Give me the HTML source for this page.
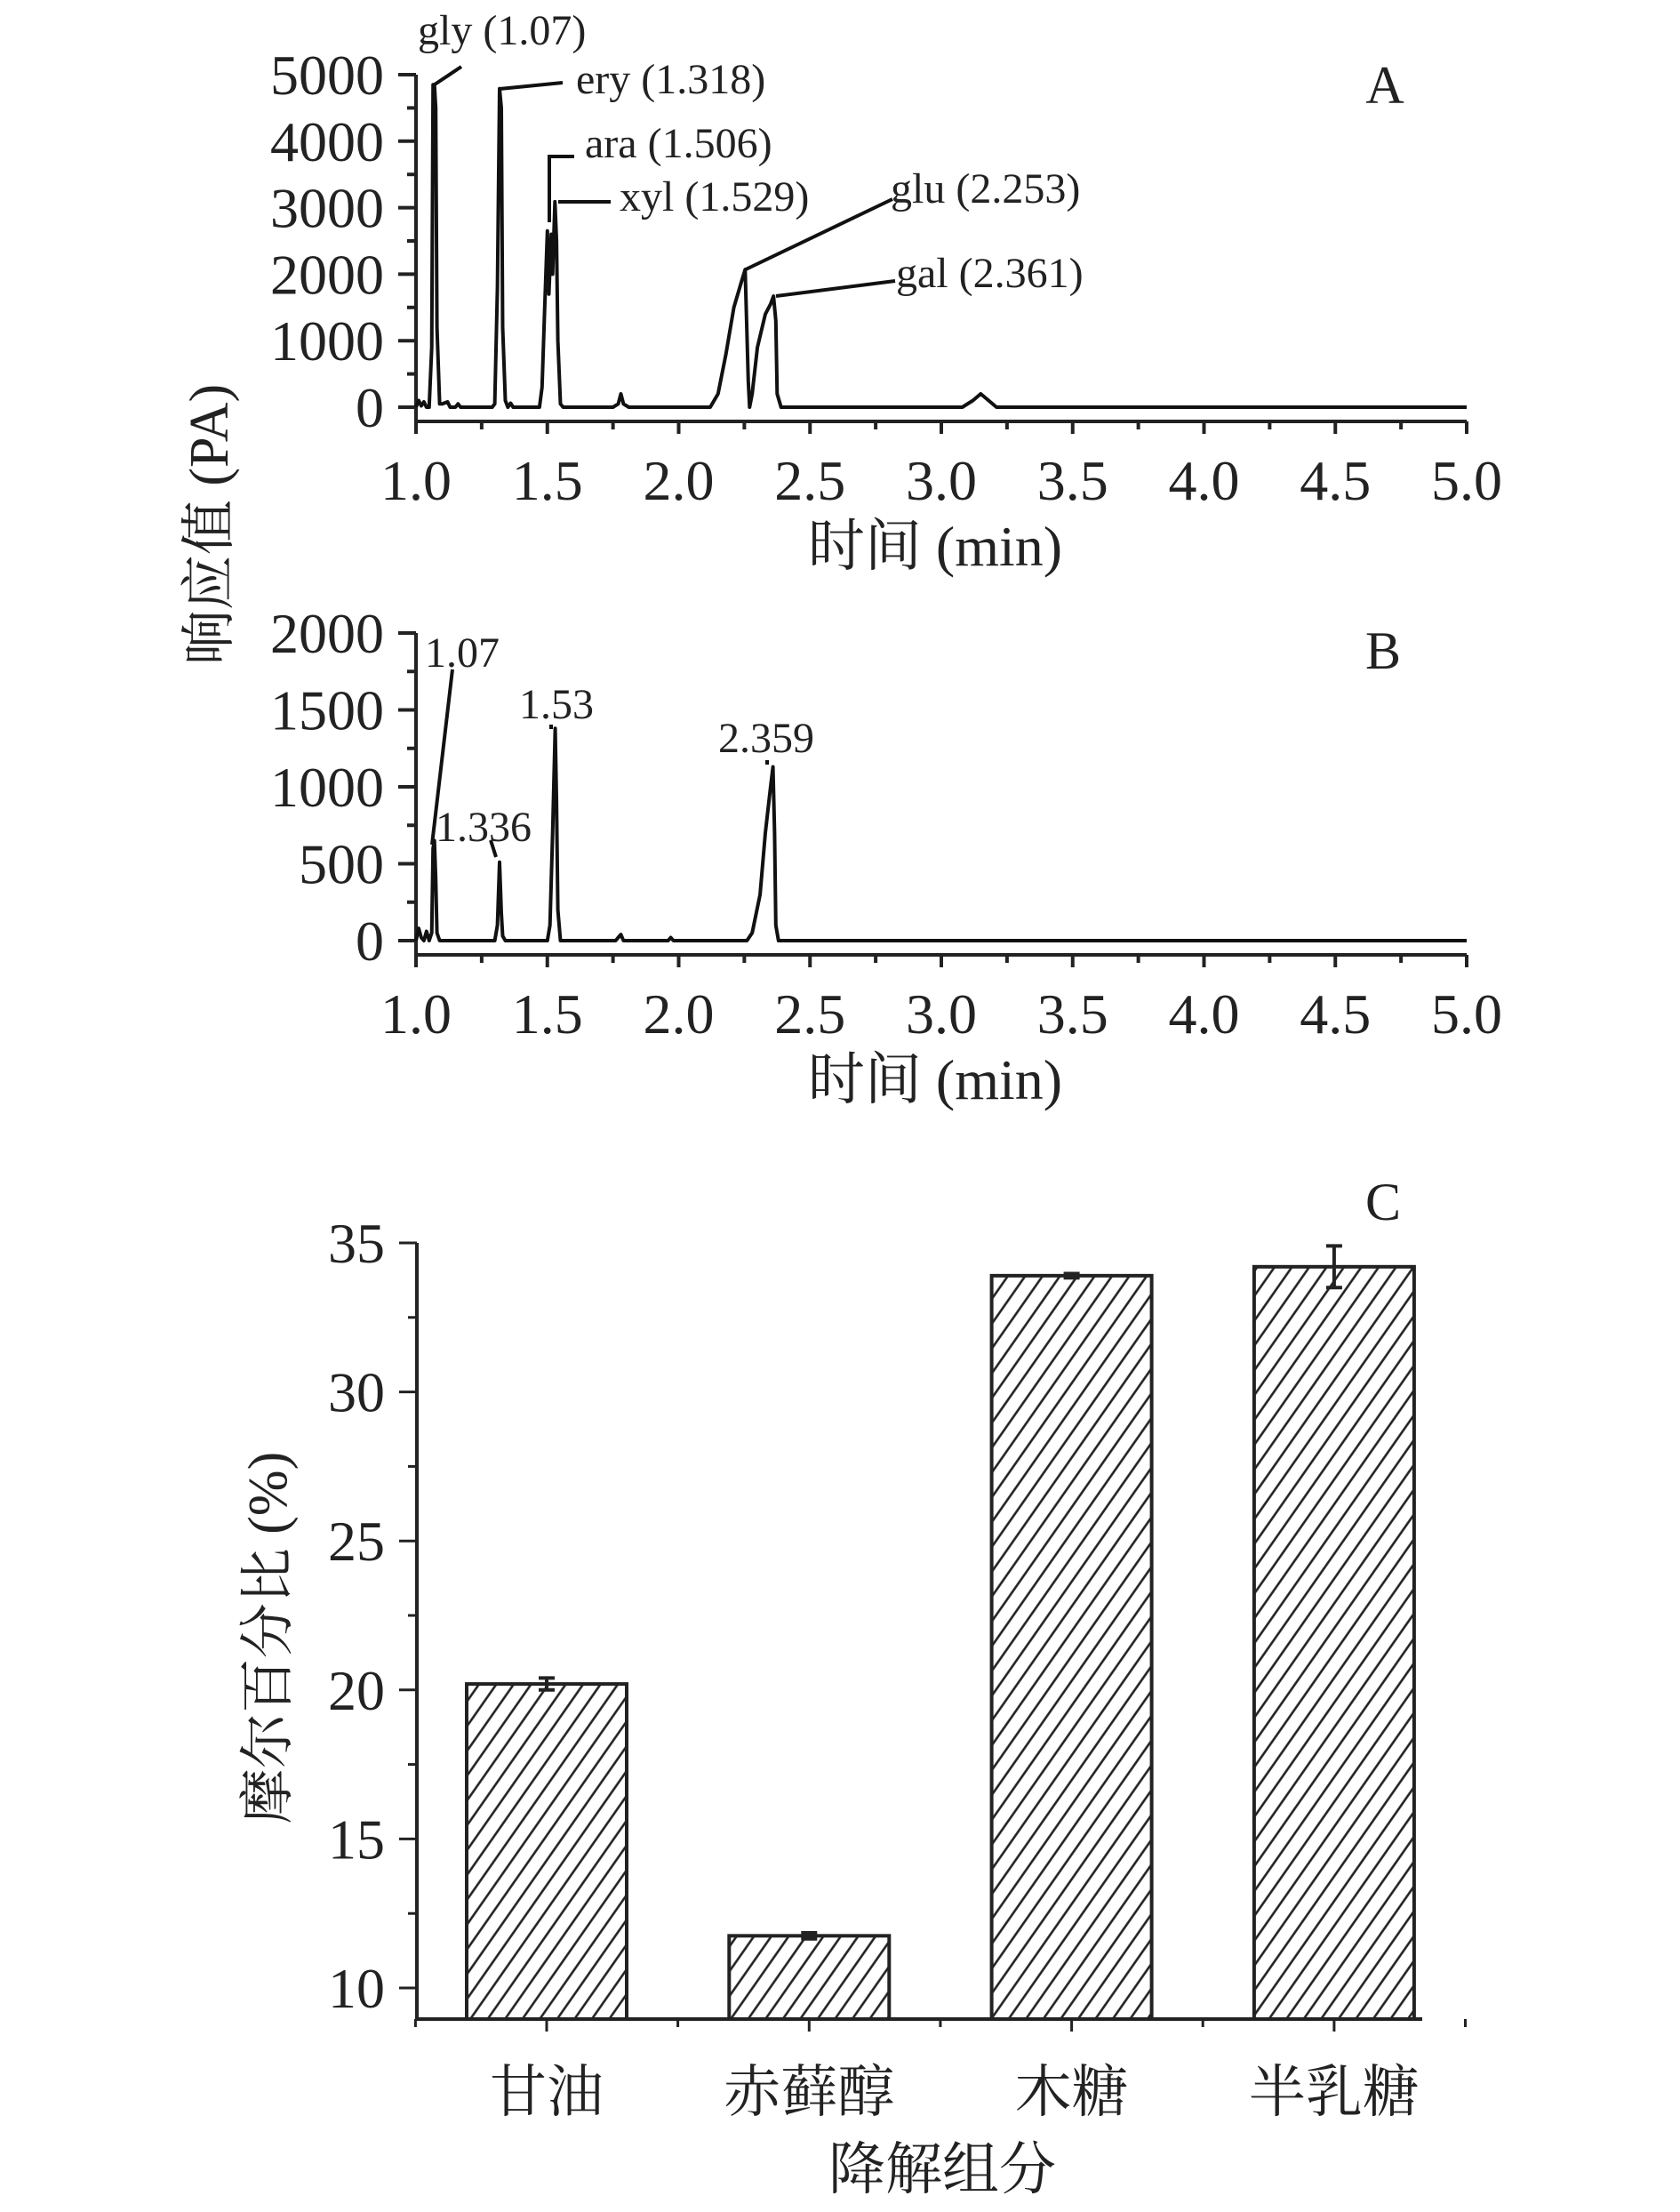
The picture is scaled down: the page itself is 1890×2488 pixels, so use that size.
<!DOCTYPE html>
<html><head><meta charset="utf-8"><style>
html,body{margin:0;padding:0;background:#fff}
svg{display:block}
text{font-family:"Liberation Serif","Noto Serif CJK SC",serif;fill:#222}
</style></head><body>
<svg id="fig" width="1890" height="2488" viewBox="0 0 1890 2488" xmlns="http://www.w3.org/2000/svg">
<defs>
<pattern id="hatch" patternUnits="userSpaceOnUse" width="16" height="40" patternTransform="rotate(35)">
<line x1="8" y1="-5" x2="8" y2="45" stroke="#222" stroke-width="2.6"/>
</pattern>
</defs>
<g id="gA"></g>
<g id="gB"></g>
<g id="gC"></g>
</svg>
<script>
// Panel A data
const aTimes = [1.0,1.01,1.02,1.03,1.04,1.05,1.06,1.065,1.07,1.075,1.08,1.09,1.10,1.12,1.13,1.15,1.16,1.17,1.19,1.29,1.30,1.31,1.318,1.325,1.33,1.34,1.35,1.36,1.37,1.40,1.47,1.48,1.49,1.50,1.506,1.515,1.52,1.529,1.535,1.54,1.55,1.56,1.75,1.77,1.78,1.79,1.81,2.12,2.15,2.18,2.21,2.24,2.253,2.265,2.27,2.28,2.30,2.33,2.35,2.361,2.37,2.375,2.39,3.08,3.12,3.15,3.18,3.21,5.0];
const aValues = [0,100,20,80,0,0,900,4850,4850,4500,1200,50,50,80,0,0,50,0,0,0,50,1800,4790,4500,1200,100,0,60,0,0,0,300,1500,2650,1700,2600,2000,3090,2500,1000,50,0,0,50,200,50,0,0,200,800,1500,1900,2070,400,0,200,900,1400,1550,1670,1300,200,0,0,100,200,100,0,0];
const aYTicks = [0,1000,2000,3000,4000,5000];
const aXTicks = [1.0,1.5,2.0,2.5,3.0,3.5,4.0,4.5,5.0];
const aXTickLabels = ["1.0","1.5","2.0","2.5","3.0","3.5","4.0","4.5","5.0"];
// Panel B data
const bTimes = [1.0,1.01,1.02,1.03,1.04,1.05,1.06,1.065,1.07,1.075,1.08,1.09,1.30,1.31,1.318,1.325,1.33,1.34,1.50,1.51,1.52,1.53,1.535,1.54,1.55,1.76,1.77,1.78,1.79,1.96,1.97,1.98,2.26,2.28,2.31,2.33,2.35,2.359,2.365,2.37,2.38,5.0];
const bValues = [0,80,20,0,60,0,50,600,650,400,50,0,0,100,510,180,30,0,0,100,700,1380,900,200,0,0,20,40,0,0,20,0,0,50,300,700,1000,1130,700,100,0,0];
const bYTicks = [0,500,1000,1500,2000];
// Panel C data
const cCategories = ["甘油","赤藓醇","木糖","半乳糖"];
const cValues = [20.2,11.75,33.9,34.2];
const cErrors = [0.2,0.1,0.07,0.7];
const cYTicks = [10,15,20,25,30,35];

const NS="http://www.w3.org/2000/svg";
function mk(parent,tag,attrs,txt){const e=document.createElementNS(NS,tag);for(const k in attrs)e.setAttribute(k,attrs[k]);if(txt!==undefined)e.textContent=txt;parent.appendChild(e);return e;}

function chrom(g,o){
  const xs=t=>468+(t-1)/4*1182;
  const ys=v=>o.y0-(v/o.ymax)*(o.y0-o.ytop);
  let e=mk(g,'line',{x1:468,y1:o.ytop,x2:468,y2:o.axisY+14,stroke:'#222','stroke-width':4});
  
  
  e=mk(g,'line',{x1:466,y1:o.axisY,x2:1650,y2:o.axisY,stroke:'#222','stroke-width':4});
  
  
  o.yTicks.forEach((v,i)=>{
    const y=ys(v);
    mk(g,'line',{x1:448,y1:y,x2:468,y2:y,stroke:'#222','stroke-width':4});
    if(i<o.yTicks.length-1){const ym=ys(v+(o.yTicks[1]-o.yTicks[0])/2);mk(g,'line',{x1:458,y1:ym,x2:468,y2:ym,stroke:'#222','stroke-width':4});}
    const t=mk(g,'text',{x:432,y:y+22,'font-size':64,'text-anchor':'end'},String(v));
    
    
  });
  aXTicks.forEach((v,i)=>{
    const x=xs(v);
    mk(g,'line',{x1:x,y1:o.axisY,x2:x,y2:o.axisY+14,stroke:'#222','stroke-width':4});
    if(i<aXTicks.length-1){const xm=xs(v+0.25);mk(g,'line',{x1:xm,y1:o.axisY,x2:xm,y2:o.axisY+9,stroke:'#222','stroke-width':4});}
    const t=mk(g,'text',{x:x,y:o.axisY+88,'font-size':64,'text-anchor':'middle'},aXTickLabels[i]);
    
    
  });
  let t=mk(g,'text',{x:1052,y:o.axisY+162,'font-size':64,'text-anchor':'middle'},'时间 (min)');
  
  
  const pts=o.times.map((tt,i)=>xs(tt).toFixed(1)+','+ys(o.values[i]).toFixed(1)).join(' ');
  const pl=mk(g,'polyline',{points:pts,fill:'none',stroke:'#111','stroke-width':4,'stroke-linejoin':'round'});
  
  
  return {xs,ys};
}

const gA=document.getElementById('gA');
const A=chrom(gA,{y0:458,ytop:84,ymax:5000,axisY:474,yTicks:aYTicks,times:aTimes,values:aValues});
function ann(g,pts,label,tx,ty,name){
  const l=mk(g,'polyline',{points:pts,fill:'none',stroke:'#111','stroke-width':4});
  
  
  const t=mk(g,'text',{x:tx,y:ty,'font-size':48},label);
  
  
}
ann(gA,'489,95 519,75','gly (1.07)',470,50,'gly');
ann(gA,'562,100 633,93','ery (1.318)',648,105,'ery');
ann(gA,'618,250 618,176 646,176','ara (1.506)',658,177,'ara');
ann(gA,'628,227 687,227','xyl (1.529)',697,237,'xyl');
ann(gA,'839,303 1004,224','glu (2.253)',1002,228,'glu');
ann(gA,'873,333 1007,316','gal (2.361)',1008,323,'gal');
let tA=mk(gA,'text',{x:1558,y:116,'font-size':60,'text-anchor':'middle'},'A');


let yt=mk(gA,'text',{x:0,y:0,'font-size':62,'text-anchor':'middle',transform:'translate(256,590) rotate(-90)'},'响应值 (PA)');



const gB=document.getElementById('gB');
const B=chrom(gB,{y0:1058,ytop:712,ymax:2000,axisY:1074,yTicks:bYTicks,times:bTimes,values:bValues});
ann(gB,'486,950 509,753','1.07',478,750,'peak-107');
ann(gB,'558,964 552,945','1.336',490,946,'peak-1336');
ann(gB,'620,820 620,815','1.53',584,808,'peak-153');
ann(gB,'863,860 863,855','2.359',808,846,'peak-2359');
let tB=mk(gB,'text',{x:1556,y:752,'font-size':60,'text-anchor':'middle'},'B');



const gC=document.getElementById('gC');
const cx0=469, cy35=1398, cy10=2236, cAxisY=2271;
const cys=v=>cy10-(v-10)/25*(cy10-cy35);
const cxs=i=>615+i*295.3;
let e=mk(gC,'line',{x1:cx0,y1:cy35,x2:cx0,y2:cAxisY+2,stroke:'#222','stroke-width':4});


e=mk(gC,'line',{x1:cx0-2,y1:cAxisY,x2:1600,y2:cAxisY,stroke:'#222','stroke-width':4});


cYTicks.forEach((v,i)=>{
  const y=cys(v);
  mk(gC,'line',{x1:cx0-20,y1:y,x2:cx0,y2:y,stroke:'#222','stroke-width':3});
  if(i<cYTicks.length-1){const ym=cys(v+2.5);mk(gC,'line',{x1:cx0-10,y1:ym,x2:cx0,y2:ym,stroke:'#222','stroke-width':3});}
  const t=mk(gC,'text',{x:cx0-36,y:y+22,'font-size':64,'text-anchor':'end'},String(v));
  
  
});
cCategories.forEach((c,i)=>{
  const x=cxs(i), bw=180, v=cValues[i], y=cys(v);
  mk(gC,'line',{x1:x,y1:cAxisY,x2:x,y2:cAxisY+14,stroke:'#222','stroke-width':3});
  mk(gC,'line',{x1:x+147.6,y1:cAxisY,x2:x+147.6,y2:cAxisY+9,stroke:'#222','stroke-width':3});
  const r=mk(gC,'rect',{x:x-bw/2,y:y,width:bw,height:cAxisY-y,fill:'url(#hatch)',stroke:'#222','stroke-width':4});
  
  
  const eh=cys(v+cErrors[i]), el=cys(v-cErrors[i]);
  const eb=mk(gC,'path',{d:`M${x-9},${eh} H${x+9} M${x},${eh} V${el} M${x-9},${el} H${x+9}`,stroke:'#222','stroke-width':4,fill:'none'});
  
  
  const t=mk(gC,'text',{x:x,y:2375,'font-size':64,'text-anchor':'middle'},c);
  
  
});
mk(gC,'line',{x1:cxs(0)-147.6,y1:cAxisY,x2:cxs(0)-147.6,y2:cAxisY+9,stroke:'#222','stroke-width':3});
let tC=mk(gC,'text',{x:1556,y:1372,'font-size':60,'text-anchor':'middle'},'C');


let xtC=mk(gC,'text',{x:1060,y:2462,'font-size':64,'text-anchor':'middle'},'降解组分');


let ytC=mk(gC,'text',{x:0,y:0,'font-size':62,'text-anchor':'middle',transform:'translate(322,1842) rotate(-90)'},'摩尔百分比 (%)');


</script>
</body></html>
